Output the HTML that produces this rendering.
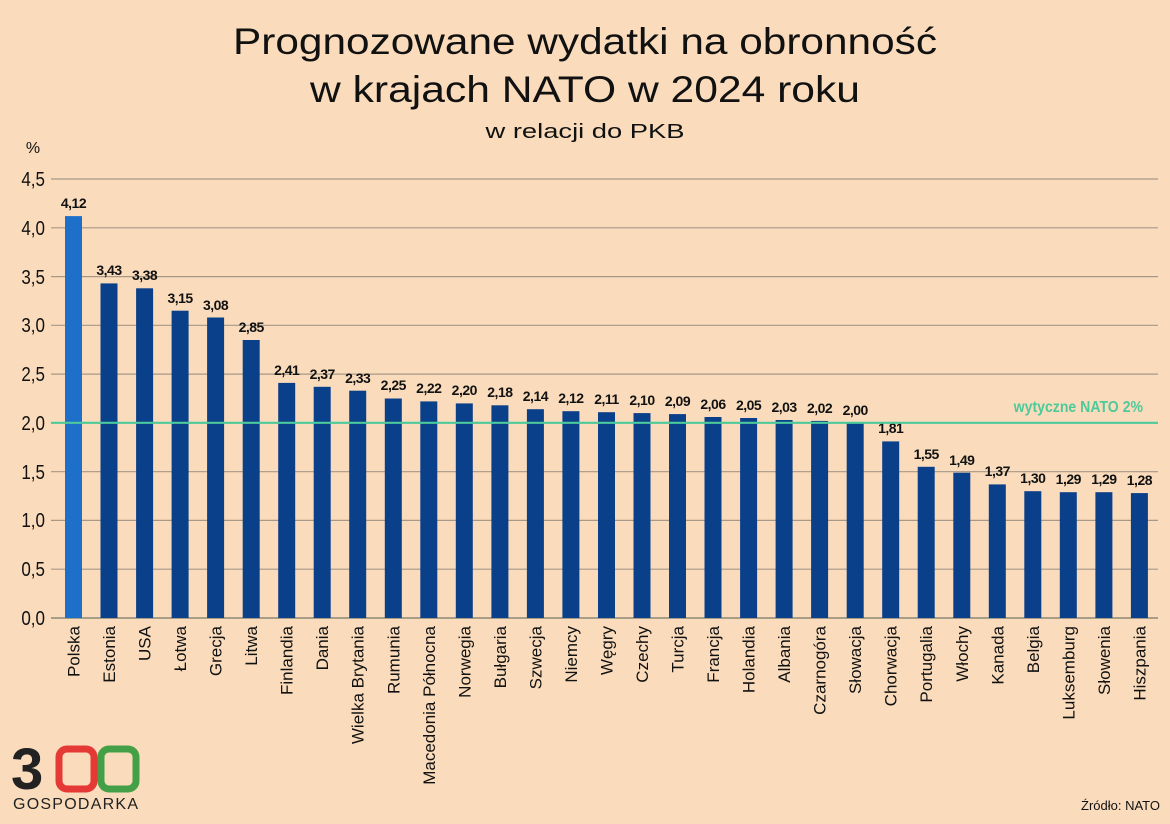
<!DOCTYPE html>
<html><head><meta charset="utf-8"><style>
html,body{margin:0;padding:0;background:#fadcbc;}
svg{display:block;font-family:"Liberation Sans",sans-serif;}
</style></head><body>
<svg width="1170" height="824" viewBox="0 0 1170 824">
<rect width="1170" height="824" fill="#fadcbc"/>
<text x="585" y="54" font-size="37" text-anchor="middle" fill="#111" textLength="704" lengthAdjust="spacingAndGlyphs">Prognozowane wydatki na obronność</text>
<text x="585" y="102" font-size="37" text-anchor="middle" fill="#111" textLength="550" lengthAdjust="spacingAndGlyphs">w krajach NATO w 2024 roku</text>
<text x="585" y="138" font-size="20" text-anchor="middle" fill="#111" textLength="199" lengthAdjust="spacingAndGlyphs">w relacji do PKB</text>
<text x="33" y="153" font-size="16" text-anchor="middle" fill="#111">%</text>
<g stroke="#a89888" stroke-width="1.2">
<line x1="51" x2="1158" y1="179" y2="179"/><line x1="51" x2="1158" y1="227.8" y2="227.8"/>
<line x1="51" x2="1158" y1="276.6" y2="276.6"/><line x1="51" x2="1158" y1="325.3" y2="325.3"/>
<line x1="51" x2="1158" y1="374.1" y2="374.1"/><line x1="51" x2="1158" y1="471.7" y2="471.7"/>
<line x1="51" x2="1158" y1="520.4" y2="520.4"/><line x1="51" x2="1158" y1="569.2" y2="569.2"/>
<line x1="51" x2="1158" y1="618" y2="618" stroke="#776"/>
</g>
<g font-size="20" text-anchor="end" fill="#111">
<text x="45" y="186" transform="translate(45 0) scale(.85 1) translate(-45 0)">4,5</text>
<text x="45" y="235" transform="translate(45 0) scale(.85 1) translate(-45 0)">4,0</text>
<text x="45" y="284" transform="translate(45 0) scale(.85 1) translate(-45 0)">3,5</text>
<text x="45" y="332" transform="translate(45 0) scale(.85 1) translate(-45 0)">3,0</text>
<text x="45" y="381" transform="translate(45 0) scale(.85 1) translate(-45 0)">2,5</text>
<text x="45" y="430" transform="translate(45 0) scale(.85 1) translate(-45 0)">2,0</text>
<text x="45" y="479" transform="translate(45 0) scale(.85 1) translate(-45 0)">1,5</text>
<text x="45" y="527" transform="translate(45 0) scale(.85 1) translate(-45 0)">1,0</text>
<text x="45" y="576" transform="translate(45 0) scale(.85 1) translate(-45 0)">0,5</text>
<text x="45" y="625" transform="translate(45 0) scale(.85 1) translate(-45 0)">0,0</text>
</g>
<g fill="#0a3f8a">
<rect x="65" y="216.1" width="17" height="401.9" fill="#1e6fca"/>
<rect x="100.5" y="283.4" width="17" height="334.6"/>
<rect x="136.1" y="288.3" width="17" height="329.7"/>
<rect x="171.6" y="310.7" width="17" height="307.3"/>
<rect x="207.1" y="317.5" width="17" height="300.5"/>
<rect x="242.7" y="340" width="17" height="278"/>
<rect x="278.2" y="382.9" width="17" height="235.1"/>
<rect x="313.7" y="386.8" width="17" height="231.2"/>
<rect x="349.2" y="390.7" width="17" height="227.3"/>
<rect x="384.8" y="398.5" width="17" height="219.5"/>
<rect x="420.3" y="401.4" width="17" height="216.6"/>
<rect x="455.8" y="403.4" width="17" height="214.6"/>
<rect x="491.4" y="405.3" width="17" height="212.7"/>
<rect x="526.9" y="409.2" width="17" height="208.8"/>
<rect x="562.4" y="411.2" width="17" height="206.8"/>
<rect x="598" y="412.2" width="17" height="205.8"/>
<rect x="633.5" y="413.1" width="17" height="204.9"/>
<rect x="669" y="414.1" width="17" height="203.9"/>
<rect x="704.5" y="417" width="17" height="201"/>
<rect x="740.1" y="418" width="17" height="200"/>
<rect x="775.6" y="420" width="17" height="198"/>
<rect x="811.1" y="420.9" width="17" height="197.1"/>
<rect x="846.7" y="422.9" width="17" height="195.1"/>
<rect x="882.2" y="441.4" width="17" height="176.6"/>
<rect x="917.7" y="466.8" width="17" height="151.2"/>
<rect x="953.3" y="472.7" width="17" height="145.3"/>
<rect x="988.8" y="484.4" width="17" height="133.6"/>
<rect x="1024.3" y="491.2" width="17" height="126.8"/>
<rect x="1059.8" y="492.2" width="17" height="125.8"/>
<rect x="1095.4" y="492.2" width="17" height="125.8"/>
<rect x="1130.9" y="493.1" width="17" height="124.9"/>
</g>
<g font-size="14" font-weight="bold" text-anchor="middle" fill="#111" letter-spacing="-0.5">
<text x="73.5" y="208">4,12</text>
<text x="109" y="275">3,43</text>
<text x="144.6" y="280">3,38</text>
<text x="180.1" y="303">3,15</text>
<text x="215.6" y="310">3,08</text>
<text x="251.2" y="332">2,85</text>
<text x="286.7" y="375">2,41</text>
<text x="322.2" y="379">2,37</text>
<text x="357.7" y="383">2,33</text>
<text x="393.3" y="390">2,25</text>
<text x="428.8" y="393">2,22</text>
<text x="464.3" y="395">2,20</text>
<text x="499.9" y="397">2,18</text>
<text x="535.4" y="401">2,14</text>
<text x="570.9" y="403">2,12</text>
<text x="606.5" y="404">2,11</text>
<text x="642" y="405">2,10</text>
<text x="677.5" y="406">2,09</text>
<text x="713" y="409">2,06</text>
<text x="748.6" y="410">2,05</text>
<text x="784.1" y="412">2,03</text>
<text x="819.6" y="413">2,02</text>
<text x="855.2" y="415">2,00</text>
<text x="890.7" y="433">1,81</text>
<text x="926.2" y="459">1,55</text>
<text x="961.8" y="465">1,49</text>
<text x="997.3" y="476">1,37</text>
<text x="1032.8" y="483">1,30</text>
<text x="1068.3" y="484">1,29</text>
<text x="1103.9" y="484">1,29</text>
<text x="1139.4" y="485">1,28</text>
</g>
<g font-size="17" text-anchor="end" fill="#111">
<text transform="translate(79.5 626) rotate(-90)">Polska</text>
<text transform="translate(115 626) rotate(-90)">Estonia</text>
<text transform="translate(150.6 626) rotate(-90)">USA</text>
<text transform="translate(186.1 626) rotate(-90)">Łotwa</text>
<text transform="translate(221.6 626) rotate(-90)">Grecja</text>
<text transform="translate(257.2 626) rotate(-90)">Litwa</text>
<text transform="translate(292.7 626) rotate(-90)">Finlandia</text>
<text transform="translate(328.2 626) rotate(-90)">Dania</text>
<text transform="translate(363.7 626) rotate(-90)">Wielka Brytania</text>
<text transform="translate(399.3 626) rotate(-90)">Rumunia</text>
<text transform="translate(434.8 626) rotate(-90)">Macedonia Północna</text>
<text transform="translate(470.3 626) rotate(-90)">Norwegia</text>
<text transform="translate(505.9 626) rotate(-90)">Bułgaria</text>
<text transform="translate(541.4 626) rotate(-90)">Szwecja</text>
<text transform="translate(576.9 626) rotate(-90)">Niemcy</text>
<text transform="translate(612.5 626) rotate(-90)">Węgry</text>
<text transform="translate(648 626) rotate(-90)">Czechy</text>
<text transform="translate(683.5 626) rotate(-90)">Turcja</text>
<text transform="translate(719 626) rotate(-90)">Francja</text>
<text transform="translate(754.6 626) rotate(-90)">Holandia</text>
<text transform="translate(790.1 626) rotate(-90)">Albania</text>
<text transform="translate(825.6 626) rotate(-90)">Czarnogóra</text>
<text transform="translate(861.2 626) rotate(-90)">Słowacja</text>
<text transform="translate(896.7 626) rotate(-90)">Chorwacja</text>
<text transform="translate(932.2 626) rotate(-90)">Portugalia</text>
<text transform="translate(967.8 626) rotate(-90)">Włochy</text>
<text transform="translate(1003.3 626) rotate(-90)">Kanada</text>
<text transform="translate(1038.8 626) rotate(-90)">Belgia</text>
<text transform="translate(1074.3 626) rotate(-90)">Luksemburg</text>
<text transform="translate(1109.9 626) rotate(-90)">Słowenia</text>
<text transform="translate(1145.4 626) rotate(-90)">Hiszpania</text>
</g>
<line x1="51" x2="1158" y1="422.8" y2="422.8" stroke="#4dc99a" stroke-width="2.2"/>
<text x="1143" y="412" font-size="16" font-weight="bold" text-anchor="end" fill="#4dc99a" transform="translate(1143 0) scale(.88 1) translate(-1143 0)">wytyczne NATO 2%</text>
<text x="11" y="789" font-size="58" font-weight="bold" fill="#222">3</text>
<rect x="59" y="749" width="35" height="40" rx="8" fill="none" stroke="#e53935" stroke-width="7"/>
<rect x="101" y="749" width="35" height="40" rx="8" fill="none" stroke="#43a047" stroke-width="7"/>
<text x="13" y="809" font-size="16" fill="#222" textLength="125">GOSPODARKA</text>
<text x="1160" y="810" font-size="13" text-anchor="end" fill="#111">Źródło: NATO</text>
</svg>
</body></html>
